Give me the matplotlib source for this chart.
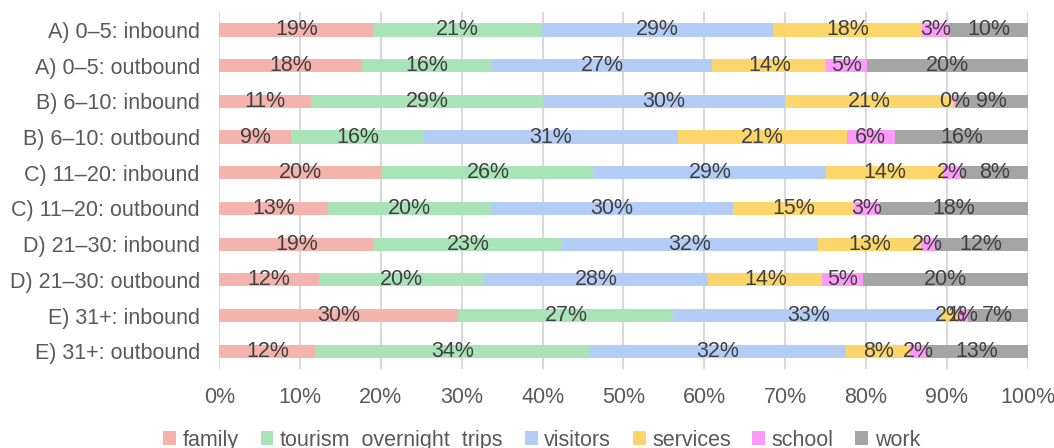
# 100% stacked bar chart of trip purposes by age group and direction
import numpy as np
import matplotlib.pyplot as plt

plt.rcParams['font.family'] = ['Liberation Sans', 'DejaVu Sans']

# Data (shares in %)
categories = ['A) 0–5: inbound', 'A) 0–5: outbound',
              'B) 6–10: inbound', 'B) 6–10: outbound',
              'C) 11–20: inbound', 'C) 11–20: outbound',
              'D) 21–30: inbound', 'D) 21–30: outbound',
              'E) 31+: inbound', 'E) 31+: outbound']
family   = [19.1, 17.6, 11.4, 8.9, 20.1, 13.4, 19.1, 12.3, 29.5, 11.9]
tourism  = [20.7, 16.2, 28.6, 16.4, 26.3, 20.2, 23.3, 20.4, 26.8, 34.0]
visitors = [28.7, 27.2, 30.0, 31.4, 28.7, 30.0, 31.7, 27.8, 33.1, 31.6]
services = [18.4, 14.1, 20.9, 20.9, 14.4, 14.9, 12.7, 14.1, 2.0, 8.0]
school   = [3.4, 5.0, 0.2, 6.0, 2.3, 3.2, 1.7, 5.0, 1.2, 1.9]
work     = [9.7, 19.9, 8.9, 16.4, 8.2, 18.3, 11.5, 20.4, 7.4, 12.6]

series_names = ['family', 'tourism_overnight_trips', 'visitors',
                'services', 'school', 'work']
series = [family, tourism, visitors, services, school, work]
colors = ['#F5B3AE', '#A8E4B7', '#B4CDF6', '#FDD66B', '#FD9CF8', '#A5A5A5']

fig = plt.figure(figsize=(10.54, 4.48), dpi=100)
ax = fig.add_axes([0.208, 0.176, 0.767, 0.797])

y = np.arange(len(categories))
left = np.zeros(len(categories))
for name, vals, col in zip(series_names, series, colors):
    vals = np.array(vals)
    bars = ax.barh(y, vals, left=left, height=0.37, color=col, label=name, zorder=2)
    ax.bar_label(bars, labels=['%d%%' % round(v) for v in vals],
                 label_type='center', fontsize=15.5, color='#404040')
    left += vals

ax.set_xlim(0, 100)
ax.set_ylim(len(categories) - 0.5, -0.5)
ax.set_yticks(y)
ax.set_yticklabels(categories)
ax.set_xticks(np.arange(0, 101, 10))
ax.set_xticklabels(['%d%%' % v for v in range(0, 101, 10)])
ax.tick_params(axis='both', length=0, labelsize=15.5, colors='#595959')
ax.tick_params(axis='y', pad=14)
ax.tick_params(axis='x', pad=13)
ax.grid(axis='x', color='#D9D9D9', linewidth=1.5, zorder=0)
for s in ax.spines.values():
    s.set_visible(False)

fig.legend(loc='center', bbox_to_anchor=(0.514, 0.017), ncol=6, frameon=False,
           fontsize=15.5, handlelength=0.6, handleheight=0.6,
           handletextpad=0.3, columnspacing=1.0, labelcolor='#595959')

plt.savefig('out.png', dpi=100)
